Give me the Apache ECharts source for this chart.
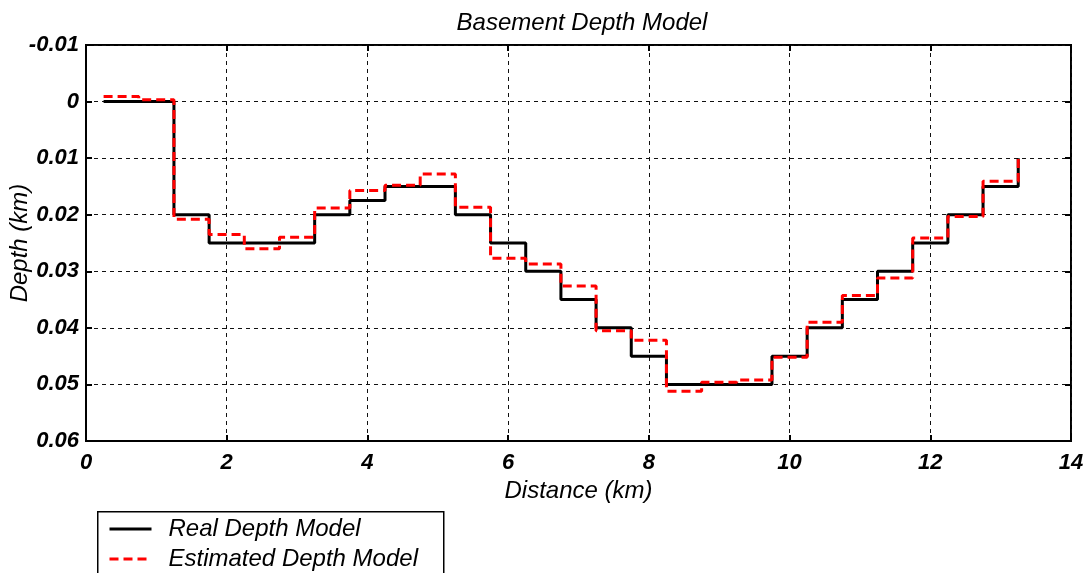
<!DOCTYPE html>
<html>
<head>
<meta charset="utf-8">
<title>Basement Depth Model</title>
<script src="https://cdn.jsdelivr.net/npm/echarts@6/dist/echarts.min.js"></script>
<style>
  html, body { margin: 0; padding: 0; background: #fff; }
  #chart { width: 1089px; height: 573px; }
</style>
</head>
<body>
<div id="chart"></div>
<script>
// Left edge of each 0.5 km cell (km); the last entry closes the profile.
const distanceKm = [0.25, 0.75, 1.25, 1.75, 2.25, 2.75, 3.25, 3.75, 4.25, 4.75,
  5.25, 5.75, 6.25, 6.75, 7.25, 7.75, 8.25, 8.75, 9.25, 9.75,
  10.25, 10.75, 11.25, 11.75, 12.25, 12.75, 13.25];

// True basement depth in each cell (km)
const realDepth = [0, 0, 0.02, 0.025, 0.025, 0.025, 0.02, 0.0175, 0.015, 0.015,
  0.02, 0.025, 0.03, 0.035, 0.04, 0.045, 0.05, 0.05, 0.05, 0.045,
  0.04, 0.035, 0.03, 0.025, 0.02, 0.015, 0.01];

// Inverted basement depth in each cell (km)
const estimatedDepth = [-0.0009, -0.0003, 0.0208, 0.0235, 0.026, 0.024, 0.0188, 0.0157, 0.0148, 0.0128,
  0.0187, 0.0277, 0.0287, 0.0326, 0.0405, 0.0422, 0.0512, 0.0496, 0.0492, 0.0452,
  0.039, 0.0343, 0.0312, 0.0241, 0.0203, 0.0141, 0.01];

const xTicks = { min: 0, max: 14, interval: 2 };
const yTicks = { min: -0.01, max: 0.06, interval: 0.01 };

const FONT = '"Liberation Sans", Arial, Helvetica, sans-serif';

const pairs = (ys) => distanceKm.map((x, i) => [x, ys[i]]);

const tickLabel = {
  fontFamily: FONT, fontSize: 22, fontWeight: 'bold', fontStyle: 'italic', color: '#000'
};
const tickStyle = { show: true, inside: true, length: 6, lineStyle: { color: '#000', width: 2 } };
const gridDash = { show: true, lineStyle: { color: '#111', width: 1, type: [4, 4] } };

const chart = echarts.init(document.getElementById('chart'), null, { renderer: 'canvas' });

chart.setOption({
  backgroundColor: '#fff',
  animation: false,
  title: {
    text: 'Basement Depth Model',
    left: 577, top: 6, textAlign: 'center',
    textStyle: { fontFamily: FONT, fontSize: 24, fontWeight: 'normal', fontStyle: 'italic', color: '#000' }
  },
  legend: {
    orient: 'vertical',
    left: 108, top: 517,
    padding: 0,
    itemGap: 6,
    itemWidth: 42, itemHeight: 14,
    itemStyle: { opacity: 0 },
    lineStyle: { width: 3 },
    textStyle: { fontFamily: FONT, fontSize: 24, fontStyle: 'italic', color: '#000', padding: [0, 0, 0, 12] },
    data: ['Real Depth Model', 'Estimated Depth Model']
  },
  // Legend frame; it runs past the lower edge of the page
  graphic: [{
    type: 'rect', left: 97, top: 511, z: 0,
    shape: { width: 346, height: 90 },
    style: { fill: '#fff', stroke: '#000', lineWidth: 1.5 }
  }],
  grid: {
    left: 86, right: 18, top: 45, bottom: 132,
    outerBoundsMode: 'none',
    show: true, borderColor: '#000', borderWidth: 2, backgroundColor: '#fff'
  },
  xAxis: [{
    type: 'value', min: xTicks.min, max: xTicks.max, interval: xTicks.interval,
    name: 'Distance (km)', nameLocation: 'middle', nameGap: 32,
    nameTextStyle: { fontFamily: FONT, fontSize: 24, fontStyle: 'italic', color: '#000' },
    axisLine: { show: true, onZero: false, lineStyle: { color: '#000', width: 2 } },
    axisTick: tickStyle,
    axisLabel: Object.assign({ margin: 11 }, tickLabel),
    splitLine: gridDash
  }, {
    type: 'value', position: 'top', min: xTicks.min, max: xTicks.max, interval: xTicks.interval,
    axisLine: { show: false, onZero: false },
    axisTick: tickStyle,
    axisLabel: { show: false },
    splitLine: { show: false }
  }],
  yAxis: [{
    type: 'value', inverse: true, min: yTicks.min, max: yTicks.max, interval: yTicks.interval,
    name: 'Depth (km)', nameLocation: 'middle', nameGap: 54, nameRotate: 90,
    nameMoveOverlap: false,
    nameTextStyle: { fontFamily: FONT, fontSize: 24, fontStyle: 'italic', color: '#000' },
    axisLine: { show: true, onZero: false, lineStyle: { color: '#000', width: 2 } },
    axisTick: tickStyle,
    axisLabel: Object.assign({
      margin: 7,
      formatter: (v) => (Math.abs(v) < 1e-9 ? '0' : v.toFixed(2))
    }, tickLabel),
    splitLine: gridDash
  }, {
    type: 'value', position: 'right', inverse: true, min: yTicks.min, max: yTicks.max, interval: yTicks.interval,
    axisLine: { show: false, onZero: false },
    axisTick: tickStyle,
    axisLabel: { show: false },
    splitLine: { show: false }
  }],
  series: [{
    name: 'Real Depth Model',
    type: 'line', step: 'end', symbol: 'none',
    xAxisIndex: 0, yAxisIndex: 0,
    lineStyle: { color: '#000', width: 3 },
    itemStyle: { color: '#000' },
    data: pairs(realDepth),
    z: 3
  }, {
    name: 'Estimated Depth Model',
    type: 'line', step: 'end', symbol: 'none',
    xAxisIndex: 0, yAxisIndex: 0,
    lineStyle: { color: '#ff0000', width: 3, type: [9, 5] },
    itemStyle: { color: '#ff0000' },
    data: pairs(estimatedDepth),
    z: 4
  }]
});
</script>
</body>
</html>
